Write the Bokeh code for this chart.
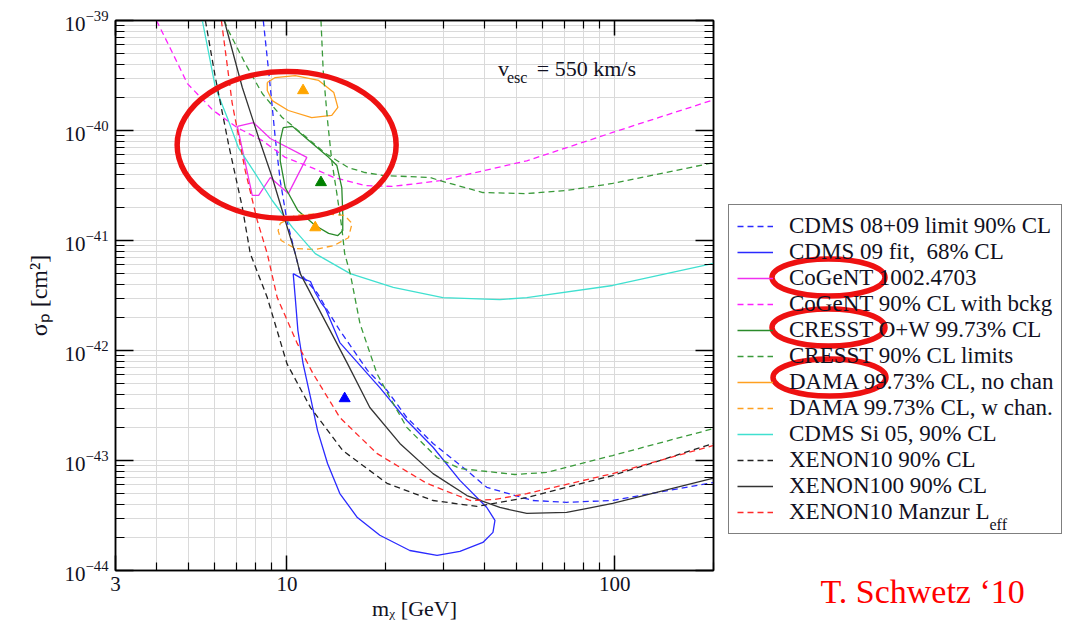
import numpy as np
from bokeh.plotting import figure
from bokeh.layouts import row
from bokeh.models import (Range1d, LogAxis, FixedTicker, Legend, LegendItem, Label, Title,
                          CustomJSTickFormatter, LogTickFormatter)
from bokeh.embed import file_html
from bokeh.resources import INLINE

FONT = "Liberation Serif"

# ---------------- data (WIMP mass in GeV, cross-section in cm^2) ----------------
cdms_lim_m = [8.47, 8.9, 9.21, 9.54, 10.0, 10.6, 10.98, 12.4, 13.3, 14.5, 17.6, 20.2, 23.2, 27.9,
              35.4, 40.7, 56.2, 71.3, 98.5, 200]
cdms_lim_s = [1e-39, 2.46e-40, 8.6e-41, 3.5e-41, 1.52e-41, 7.6e-42, 5.0e-42, 3.3e-42, 2.31e-42,
              1.52e-42, 6.6e-43, 4.33e-43, 2.46e-43, 1.43e-43, 8.1e-44, 5.7e-44, 4.33e-44, 4.17e-44,
              4.33e-44, 6.3e-44]

cdms_fit_m = [10.45, 10.98, 11.8, 12.2, 12.7, 13.1, 13.3, 14.5, 16.4, 19.2, 23.2, 27.9, 33.7, 40.7,
              43.1, 42.5, 39.6, 33.7, 28.7, 23.7, 19.2, 16.4, 14.5, 13.3, 12.4, 11.8, 11.2, 10.8, 10.6]
cdms_fit_s = [5.0e-42, 4.6e-42, 4.24e-42, 3.37e-42, 2.73e-42, 2.41e-42, 2.17e-42, 1.18e-42, 7.8e-43,
              4.6e-43, 2.31e-43, 1.32e-43, 6.6e-44, 3.74e-44, 2.85e-44, 2.22e-44, 1.8e-44, 1.49e-44,
              1.37e-44, 1.52e-44, 2.09e-44, 3.03e-44, 5.0e-44, 9.4e-44, 1.87e-43, 3.74e-43, 7.6e-43,
              1.52e-42, 3.03e-42]

cogent_m = [7.06, 7.9, 8.9, 11.5, 10.1, 8.9, 8.2, 7.84]
cogent_s = [1.09e-40, 1.18e-40, 8.45e-41, 5.7e-41, 2.67e-41, 3.74e-41, 2.57e-41, 2.57e-41]

cogent_bkg_m = [4.0, 4.41, 4.97, 5.96, 7.06, 8.41, 9.88, 11.9, 13.9, 17.3, 21.0, 29.3, 53.9, 98.5, 200]
cogent_bkg_s = [1e-39, 5.57e-40, 2.67e-40, 1.52e-40, 1.06e-40, 8.1e-41, 5.7e-41, 4.6e-41, 3.74e-41,
                3.16e-41, 3.1e-41, 3.5e-41, 5.3e-41, 9.6e-41, 1.9e-40]

cresst_m = [9.74, 10.4, 11.4, 13.4, 14.2, 14.7, 14.8, 14.8, 14.3, 13.4, 12.2, 10.8, 9.88, 9.54, 9.54]
cresst_s = [1.06e-40, 1.09e-40, 8.6e-41, 5.7e-41, 4.8e-41, 3.03e-41, 1.76e-41, 1.23e-41, 1.11e-41,
            1.16e-41, 1.37e-41, 1.87e-41, 3.03e-41, 5.3e-41, 8.1e-41]

cresst_lim1_m = [6.44, 6.63, 7.46, 8.41, 9.68, 11.1, 13.1, 15.4, 17.3, 19.6, 27.3, 29.3, 39.6, 53.9,
                 71.3, 98.5, 200]
cresst_lim1_s = [1e-39, 8.1e-40, 4.07e-40, 2.17e-40, 1.31e-40, 9.4e-41, 6.2e-41, 4.6e-41, 4.15e-41,
                 3.9e-41, 3.74e-41, 3.5e-41, 2.73e-41, 2.67e-41, 2.85e-41, 3.3e-41, 5.1e-41]
cresst_lim2_m = [12.7, 12.9, 13.3, 13.7, 14.2, 14.7, 15.0, 15.6, 16.7, 18.8, 20.6, 23.2, 28.7, 33.7,
                 49.6, 62.0, 98.5, 200]
cresst_lim2_s = [1e-39, 3.5e-40, 1.23e-40, 5.3e-41, 2.67e-41, 1.31e-41, 7.6e-42, 5.0e-42, 1.76e-42,
                 6.2e-43, 3.74e-43, 2.0e-43, 1.06e-43, 8.45e-44, 7.46e-44, 7.8e-44, 1.11e-43, 1.95e-43]

dama_m = [8.71, 9.21, 10.6, 12.5, 13.9, 14.3, 13.7, 11.9, 10.1, 9.02, 8.71]
dama_s = [2.73e-40, 3.03e-40, 3.16e-40, 2.85e-40, 2.21e-40, 1.62e-40, 1.37e-40, 1.31e-40, 1.52e-40,
          1.87e-40, 2.31e-40]

dama_ch_m = [9.54, 10.6, 12.8, 15.0, 15.8, 15.4, 13.9, 12.2, 10.6, 9.6, 9.4]
dama_ch_s = [1.43e-41, 1.69e-41, 1.76e-41, 1.69e-41, 1.43e-41, 1.06e-41, 9.0e-42, 8.3e-42, 8.45e-42,
             1.0e-41, 1.23e-41]

cdms_si_m = [5.52, 6.05, 6.63, 7.11, 8.0, 9.02, 10.4, 12.2, 15.6, 21.1, 29.9, 44.6, 53.9, 98.5, 200]
cdms_si_s = [1e-39, 2.46e-40, 1.23e-40, 7.0e-41, 4.07e-41, 2.31e-41, 1.31e-41, 7.6e-42, 5.0e-42,
             3.74e-42, 3.03e-42, 2.9e-42, 3.03e-42, 3.9e-42, 6.2e-42]

xe10_m = [5.64, 6.05, 6.63, 7.31, 7.73, 8.71, 10.0, 11.8, 14.8, 20.2, 27.9, 38.0, 53.9, 98.5, 200]
xe10_s = [1e-39, 3.03e-40, 7.6e-41, 2.0e-41, 7.6e-42, 3.03e-42, 7.6e-43, 3.03e-43, 1.23e-43, 6.2e-44,
          4.33e-44, 3.82e-44, 4.6e-44, 7.3e-44, 1.43e-43]

xe100_m = [6.44, 7.31, 8.2, 9.02, 9.88, 10.6, 10.98, 12.9, 15.3, 17.9, 22.1, 27.9, 35.4, 44.6, 53.9,
           71.3, 98.5, 200]
xe100_s = [1e-39, 2.46e-40, 8.6e-41, 3.74e-41, 1.52e-41, 7.6e-42, 5.0e-42, 2.0e-42, 7.6e-43, 3.03e-43,
           1.43e-43, 7.6e-44, 4.8e-44, 3.74e-44, 3.3e-44, 3.37e-44, 4.07e-44, 6.9e-44]

manzur_m = [6.31, 6.81, 7.46, 8.12, 8.71, 9.34, 10.75, 12.0, 14.5, 18.8, 26.7, 36.2, 43.1, 53.9, 98.5, 200]
manzur_s = [1e-39, 1.76e-40, 4.33e-41, 1.52e-41, 7.6e-42, 3.03e-42, 1.16e-42, 6.2e-43, 2.46e-43,
            1.16e-43, 6.2e-44, 4.33e-44, 4.42e-44, 5.0e-44, 7.6e-44, 1.37e-43]

# best-fit points (triangles)
best_m = [11.2, 12.2, 12.7, 15.0]
best_s = [2.31e-40, 1.31e-41, 3.37e-41, 3.66e-43]
best_color = ["#ffa500", "#ffa500", "#008000", "#0000ff"]

# ticks and tick labels
x_major_ticks = [3, 10, 100]
x_tick_labels = ["3", "10", "100"]
x_minor_ticks = [4, 5, 6, 7, 8, 9, 20, 30, 40, 50, 60, 70, 80, 90, 200]
y_major_ticks = [1e-44, 1e-43, 1e-42, 1e-41, 1e-40, 1e-39]
y_minor_ticks = [a * 10.0 ** k for k in range(-44, -39) for a in range(2, 10)]

legend_labels = ["CDMS 08+09 limit 90% CL", "CDMS 09 fit,  68% CL", "CoGeNT 1002.4703",
                 "CoGeNT 90% CL with bckg", "CRESST O+W 99.73% CL", "CRESST 90% CL limits",
                 "DAMA 99.73% CL, no chan", "DAMA 99.73% CL, w chan.", "CDMS Si 05, 90% CL",
                 "XENON10 90% CL", "XENON100 90% CL", "XENON10 Manzur L"]

# highlight oval (data centre) in the plot
highlight_m = [9.98]
highlight_s = [7.38e-41]

DASH = "6 4"
LW = 1.3
series_style = [("#2a2aff", DASH), ("#2a2aff", "solid"), ("#f030f0", "solid"), ("#ff20ff", DASH),
                ("#2a8a2a", "solid"), ("#3a9a3a", DASH), ("#ffa020", "solid"), ("#ffa020", DASH),
                ("#40e0d0", "solid"), ("#222222", DASH), ("#333333", "solid"), ("#ff2a2a", DASH)]

# ---------------- main figure ----------------
p = figure(width=716, height=627, x_axis_type="log", y_axis_type="log",
           x_range=Range1d(3, 200), y_range=Range1d(1e-44, 1e-39),
           output_backend="svg", toolbar_location=None,
           min_border_left=115, min_border_right=3, min_border_top=20, min_border_bottom=57,
           background_fill_color="white", border_fill_color="white")
p.outline_line_color = "black"
p.outline_line_width = 1.5

x_ticker = FixedTicker(ticks=x_major_ticks, minor_ticks=x_minor_ticks)
y_ticker = FixedTicker(ticks=y_major_ticks, minor_ticks=y_minor_ticks)

fmt_code = """
let best = -1, bd = 1e9;
for (let i = 0; i < vals.length; i++) {
  const d = Math.abs(Math.log10(tick) - Math.log10(vals[i]));
  if (d < bd) { bd = d; best = i; }
}
return (bd < 1e-6) ? labels[best] : "";
"""
x_fmt = CustomJSTickFormatter(args=dict(vals=x_major_ticks, labels=x_tick_labels), code=fmt_code)

xb = p.xaxis[0]
yl = p.yaxis[0]
xb.ticker = x_ticker
xb.formatter = x_fmt
yl.ticker = y_ticker
yl.formatter = LogTickFormatter()

top = LogAxis(ticker=x_ticker, formatter=CustomJSTickFormatter(code='return "";'))
right = LogAxis(ticker=y_ticker, formatter=CustomJSTickFormatter(code='return "";'))
p.add_layout(top, "above")
p.add_layout(right, "right")

for ax, big, small in [(xb, 15, 8), (top, 15, 8), (yl, 18, 9), (right, 18, 9)]:
    ax.major_tick_in = big
    ax.major_tick_out = 0
    ax.minor_tick_in = small
    ax.minor_tick_out = 0
    ax.axis_line_color = "black"
    ax.axis_line_width = 1.5
    ax.major_tick_line_color = "black"
    ax.major_tick_line_width = 1.5
    ax.minor_tick_line_color = "black"
    ax.minor_tick_line_width = 1.2
    ax.major_label_text_font = FONT
    ax.major_label_text_color = "#111122"

for ax in (top, right):
    ax.major_label_text_font_size = "0px"
    ax.major_label_standoff = 0

xb.major_label_text_font_size = "21px"
yl.major_label_text_font_size = "21px"
xb.major_label_standoff = 6
yl.major_label_standoff = 7
xb.axis_label = "m\u1d6a [GeV]"
yl.axis_label = "\u03c3\u209a [cm\u00b2]"
for ax, sz in [(xb, "22px"), (yl, "24px")]:
    ax.axis_label_text_font = FONT
    ax.axis_label_text_font_size = sz
    ax.axis_label_text_font_style = "normal"
    ax.axis_label_text_color = "#111122"
xb.axis_label_standoff = 2
yl.axis_label_standoff = 10

p.xgrid.ticker = x_ticker
p.ygrid.ticker = y_ticker
for g in (p.xgrid[0], p.ygrid[0]):
    g.grid_line_color = "#dadada"
    g.grid_line_width = 1
    g.minor_grid_line_color = "#dadada"
    g.minor_grid_line_width = 1


def ln(fig, m, s, style, closed=False):
    m = list(m)
    s = list(s)
    if closed:
        m = m + m[:1]
        s = s + s[:1]
    color, dash = style
    return fig.line(m, s, line_color=color, line_width=LW, line_dash=dash)


series = [(cdms_lim_m, cdms_lim_s, False), (cdms_fit_m, cdms_fit_s, True),
          (cogent_m, cogent_s, True), (cogent_bkg_m, cogent_bkg_s, False),
          (cresst_m, cresst_s, True), (cresst_lim1_m, cresst_lim1_s, False),
          (dama_m, dama_s, True), (dama_ch_m, dama_ch_s, True),
          (cdms_si_m, cdms_si_s, False), (xe10_m, xe10_s, False),
          (xe100_m, xe100_s, False), (manzur_m, manzur_s, False)]
for (m, s, closed), st in zip(series, series_style):
    ln(p, m, s, st, closed)
ln(p, cresst_lim2_m, cresst_lim2_s, series_style[5])

p.scatter(best_m, best_s, marker="triangle", size=11, fill_color=best_color, line_color=best_color)

# highlight oval in the plot
p.ellipse(x=highlight_m, y=highlight_s, width=219, height=147, width_units="screen",
          height_units="screen", fill_color=None, line_color="#ee1111", line_width=5.5)

# v_esc annotation
p.add_layout(Label(x=44.0, y=3.66e-40, text="v", text_font=FONT, text_font_size="22px",
                   text_color="#111122", text_baseline="alphabetic"))
p.add_layout(Label(x=46.9, y=3.03e-40, text="esc", text_font=FONT, text_font_size="16px",
                   text_color="#111122", text_baseline="alphabetic"))
p.add_layout(Label(x=57.8, y=3.66e-40, text="= 550 km/s", text_font=FONT, text_font_size="22px",
                   text_color="#111122", text_baseline="alphabetic"))

# ---------------- side panel: legend and notes ----------------
# panel units: x = page pixel column, y = pixels up from the page bottom
q = figure(width=360, height=627, x_range=Range1d(716, 1076), y_range=Range1d(57, 607),
           x_axis_location=None, y_axis_location=None, output_backend="svg",
           toolbar_location=None, min_border=0, outline_line_color=None,
           background_fill_color="white", border_fill_color="white")
q.grid.visible = False

leg_renderers = [q.line(x=np.array([np.nan]), y=np.array([np.nan]), line_color=c, line_width=LW,
                        line_dash=d) for c, d in series_style]
items = [LegendItem(label=lab, renderers=[r]) for lab, r in zip(legend_labels, leg_renderers)]
leg = Legend(items=items, location=(12, 36), border_line_color="black", border_line_width=1.2,
             background_fill_color="white", background_fill_alpha=0.0,
             label_text_font=FONT, label_text_font_size="23px", label_text_color="#111122",
             glyph_width=36, glyph_height=20, label_height=20, spacing=0, padding=8, margin=0,
             label_standoff=16, level="underlay")
q.add_layout(leg)

# subscript of L_eff in the legend
q.add_layout(Label(x=989, y=103, text="eff", text_font=FONT, text_font_size="16px",
                   text_color="#111122", text_baseline="alphabetic", level="overlay"))

# red ovals over the legend entries
oval_x = [828, 828, 829]
oval_y = [350, 300, 250]
q.ellipse(x=oval_x, y=oval_y, width=113, height=37, fill_color=None, line_color="#ee1111",
          line_width=5.5, level="overlay")

# credit below the panel
q.add_layout(Title(text="T. Schwetz \u201810", text_font=FONT, text_font_size="34px",
                   text_color="#ff0000", text_font_style="normal", align="left", offset=104,
                   standoff=0), "below")

layout = row(p, q, spacing=0)
open("out.html", "w").write(file_html(layout, INLINE))
